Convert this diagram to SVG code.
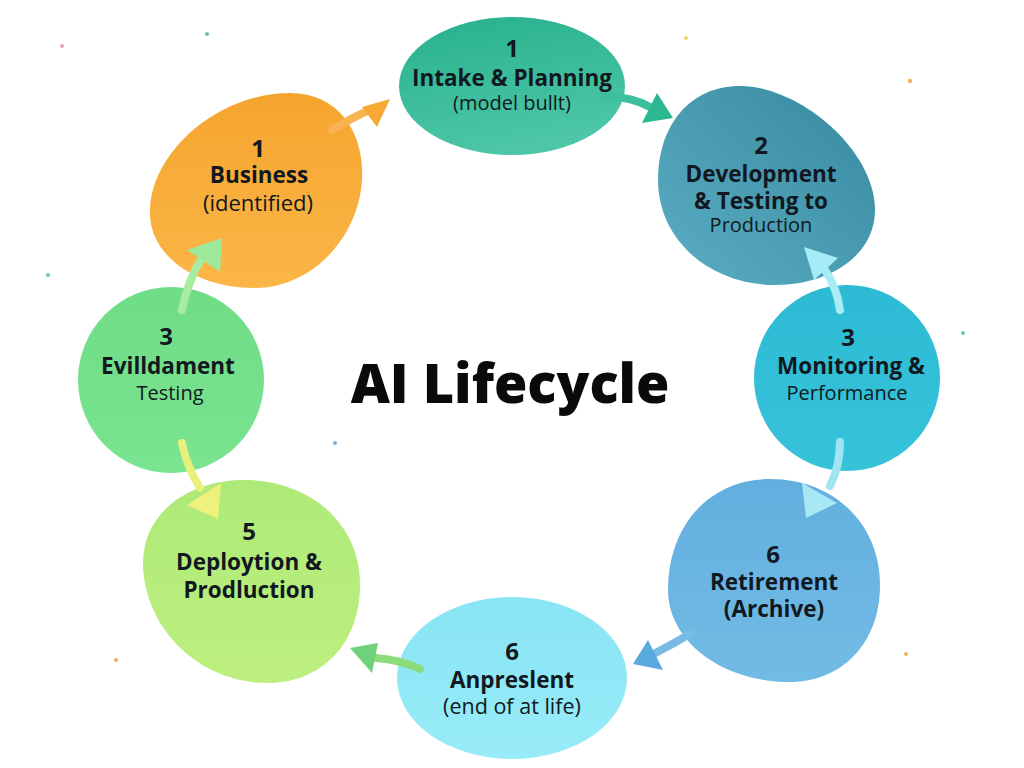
<svg xmlns="http://www.w3.org/2000/svg" width="1024" height="768" viewBox="0 0 1024 768">
<defs>
<style>
text{font-family:"Open Sans","Noto Sans","Liberation Sans",sans-serif;text-anchor:middle;fill:#111820}
.n{font-size:24px;font-weight:700}
.b{font-size:22.5px;font-weight:700}
.r{font-size:20px;font-weight:400}
.title{font-size:54px;font-weight:800;fill:#0a0a0a}
.shaft{fill:none;stroke-width:8;stroke-linecap:round}
.dot{opacity:0.8}
</style>
<linearGradient id="gTeal" x1="0" y1="0" x2="0.3" y2="1"><stop offset="0" stop-color="#27b08d"/><stop offset="1" stop-color="#4cc6a6"/></linearGradient>
<linearGradient id="gOrange" x1="0" y1="0" x2="0" y2="1"><stop offset="0" stop-color="#f5a52e"/><stop offset="1" stop-color="#fbb648"/></linearGradient>
<linearGradient id="gDev" x1="1" y1="0" x2="0" y2="1"><stop offset="0" stop-color="#37899f"/><stop offset="1" stop-color="#5aaec4"/></linearGradient>
<linearGradient id="gMon" x1="0" y1="0" x2="0" y2="1"><stop offset="0" stop-color="#2dbad4"/><stop offset="1" stop-color="#36c3da"/></linearGradient>
<linearGradient id="gEvi" x1="0" y1="0" x2="0" y2="1"><stop offset="0" stop-color="#6fdc86"/><stop offset="1" stop-color="#7ae490"/></linearGradient>
<linearGradient id="gDep" x1="0" y1="0" x2="0" y2="1"><stop offset="0" stop-color="#aeea78"/><stop offset="1" stop-color="#bdef7e"/></linearGradient>
<linearGradient id="gRet" x1="0" y1="0" x2="0" y2="1"><stop offset="0" stop-color="#62afdf"/><stop offset="1" stop-color="#72bbe4"/></linearGradient>
<linearGradient id="gAnp" x1="0" y1="0" x2="0" y2="1"><stop offset="0" stop-color="#88e4f3"/><stop offset="1" stop-color="#98ecf8"/></linearGradient>
</defs>
<rect width="1024" height="768" fill="#ffffff"/>
<g id="dots">
<circle class="dot" cx="62" cy="46" r="2" fill="#e8889a"/>
<circle class="dot" cx="207" cy="34" r="2" fill="#4aa8a0"/>
<circle class="dot" cx="686" cy="38" r="2" fill="#e6d040"/>
<circle class="dot" cx="910" cy="81" r="2.2" fill="#f0a030"/>
<circle class="dot" cx="48" cy="275" r="2" fill="#40b8b0"/>
<circle class="dot" cx="963" cy="333" r="2" fill="#40b8b0"/>
<circle class="dot" cx="335" cy="443" r="2" fill="#5a9ad8"/>
<circle class="dot" cx="116" cy="660" r="2" fill="#f09040"/>
<circle class="dot" cx="906" cy="654" r="2" fill="#f0a030"/>
</g>
<g id="node-intake">
<ellipse cx="512" cy="86" rx="113" ry="69" fill="url(#gTeal)"/>
<text class="n" x="512" y="57">1</text>
<text class="b" x="512" y="86">Intake &amp; Planning</text>
<text class="r" x="512" y="110">(model bullt)</text>
</g>
<g id="node-business">
<path d="M290,93 C340,93 365,135 362,180 C358,240 310,288 255,288 C195,288 148,255 150,210 C152,150 220,93 290,93 Z" fill="url(#gOrange)"/>
<text class="n" x="258" y="157">1</text>
<text class="b" x="259" y="183">Business</text>
<text class="r" x="258" y="211" style="font-size:22px">(identified)</text>
</g>
<g id="node-development">
<path d="M740,86 C800,86 875,150 875,210 C875,255 830,285 775,285 C710,285 658,240 658,180 C658,125 690,86 740,86 Z" fill="url(#gDev)"/>
<text class="n" x="761" y="154">2</text>
<text class="b" x="761" y="182">Development</text>
<text class="b" x="761" y="209">&amp; Testing to</text>
<text class="r" x="761" y="232">Production</text>
</g>
<g id="node-monitoring">
<circle cx="847" cy="378" r="93" fill="url(#gMon)"/>
<text class="n" x="848" y="346">3</text>
<text class="b" x="851" y="374">Monitoring &amp;</text>
<text class="r" x="847" y="400">Performance</text>
</g>
<g id="node-evilldament">
<circle cx="171" cy="380" r="93" fill="url(#gEvi)"/>
<text class="n" x="166" y="345">3</text>
<text class="b" x="168" y="374">Evilldament</text>
<text class="r" x="170" y="400">Testing</text>
</g>
<g id="node-deployment">
<path d="M240,480 C305,478 360,520 360,585 C360,645 320,683 268,683 C200,683 145,630 143,565 C142,515 185,482 240,480 Z" fill="url(#gDep)"/>
<text class="n" x="249" y="540">5</text>
<text class="b" x="249" y="570">Deploytion &amp;</text>
<text class="b" x="249" y="598">Prodluction</text>
</g>
<g id="node-retirement">
<path d="M770,479 C835,479 880,525 880,585 C880,645 840,682 790,682 C720,682 668,640 668,590 C668,525 710,479 770,479 Z" fill="url(#gRet)"/>
<text class="n" x="773" y="563">6</text>
<text class="b" x="774" y="590">Retirement</text>
<text class="b" x="774" y="617">(Archive)</text>
</g>
<g id="node-anpreslent">
<ellipse cx="512" cy="678" rx="115" ry="81" fill="url(#gAnp)"/>
<text class="n" x="512" y="660">6</text>
<text class="b" x="512" y="688">Anpreslent</text>
<text class="r" x="512" y="714" style="font-size:21.5px">(end of at life)</text>
</g>
<text class="title" x="510" y="403">AI Lifecycle</text>
<g id="connectors">
<path class="shaft" d="M332,130 C345,122 360,114 372,109" stroke="#f8b450"/>
<polygon points="390,99 377,127 362,107" fill="#f7a935"/>
<path class="shaft" d="M604,97 C622,96 637,100 650,107" stroke="#3cbf9c"/>
<polygon points="673,118 657,93 642,123" fill="#2db791"/>
<path class="shaft" d="M840,310 C838,295 833,282 825,270" stroke="#a8ecf6"/>
<polygon points="804,247 838,258 814,280" fill="#a6ecf6"/>
<path class="shaft" d="M840,442 C840,458 837,472 830,486" stroke="#a0e6f2"/>
<polygon points="806,518 802,483 837,503" fill="#a8e8f4"/>
<path class="shaft" d="M692,632 C678,642 664,648 652,655" stroke="#78bce6"/>
<polygon points="633,664 648,640 663,670" fill="#5aaae0"/>
<path class="shaft" d="M420,669 C405,662 390,659 376,658" stroke="#8cdc7c"/>
<polygon points="350,648 378,643 372,673" fill="#6fd27a"/>
<path class="shaft" d="M182,443 C185,458 190,472 200,488" stroke="#e6f07a"/>
<polygon points="218,519 187,505 221,483" fill="#eef27c"/>
<path class="shaft" d="M182,310 C186,290 193,272 202,258" stroke="#a8eca0"/>
<polygon points="222,238 187,250 220,272" fill="#9ee89a"/>
</g>
</svg>
